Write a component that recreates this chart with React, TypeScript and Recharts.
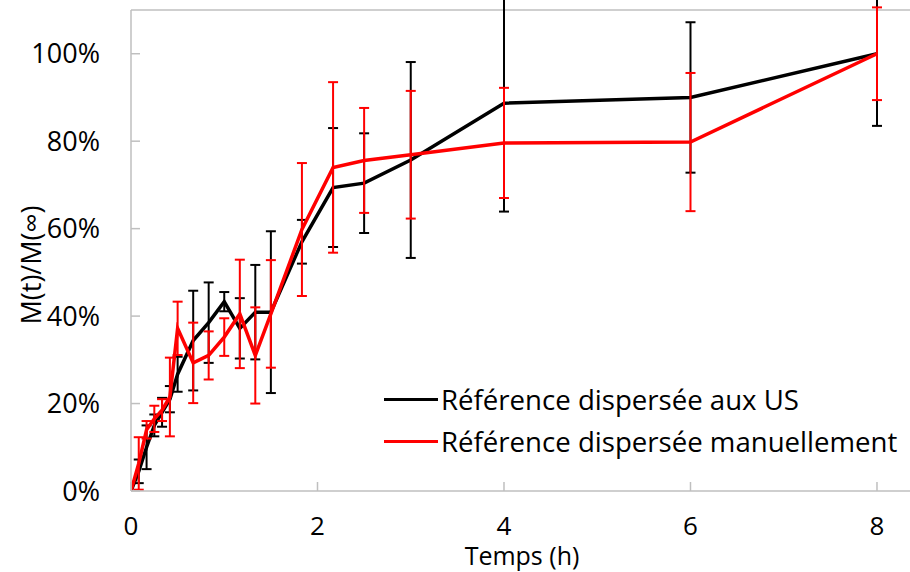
import { ErrorBar, Line, LineChart, ReferenceLine, XAxis, YAxis } from 'recharts'

// time in hours
const TIMES = [0, 0.083, 0.167, 0.25, 0.333, 0.417, 0.5, 0.667, 0.833, 1, 1.167, 1.333, 1.5, 1.833, 2.167, 2.5, 3, 4, 6, 8]

// Référence dispersée aux US (%)
const US = [0, 4.5, 10, 15, 18, 21, 26.7, 34.4, 38.5, 43.3, 37.2, 40.9, 40.9, 57, 69.4, 70.4, 75.7, 88.7, 90, 100]
const US_ERR = [0, 2.7, 5, 2.5, 3.3, 3, 4, 11.4, 9.2, 2.2, 6.9, 10.8, 18.5, 5, 13.6, 11.4, 22.4, 24.8, 17.2, 16.5]

// Référence dispersée manuellement (%)
const MAN = [0, 6.3, 14, 16.5, 18.5, 21.5, 37.2, 29.3, 31, 35.2, 40.5, 31, 40.5, 59.8, 74, 75.6, 76.9, 79.6, 79.8, 100]
const MAN_ERR = [0, 6, 2, 3, 2.5, 9, 6.1, 9.2, 5.5, 4.3, 12.4, 11, 12.3, 15.2, 19.5, 12, 14.6, 12.6, 15.8, 10.6]

const X_TICKS = [0, 2, 4, 6, 8]
const Y_TICKS = [0, 20, 40, 60, 80, 100]

const SERIES = [
  { key: 'us', err: 'usErr', name: 'Référence dispersée aux US', color: '#000000' },
  { key: 'man', err: 'manErr', name: 'Référence dispersée manuellement', color: '#ff0000' },
]

const data = TIMES.map((t, i) => ({ t, us: US[i], usErr: US_ERR[i], man: MAN[i], manErr: MAN_ERR[i] }))

const FONT = '"Open Sans", "Noto Sans", sans-serif'
const AXIS = '#bfbfbf'

export default function App() {
  return (
    <div style={{ position: 'fixed', left: 0, top: 0, width: 910, height: 572, background: '#fff', overflow: 'hidden' }}>
      <LineChart width={910} height={572} data={data} margin={{ top: 10, right: 0, bottom: 0, left: 0 }}>
        <XAxis
          dataKey="t"
          type="number"
          domain={[0, 8.354]}
          ticks={X_TICKS}
          allowDataOverflow
          height={81}
          stroke={AXIS}
          strokeWidth={1.5}
          tickSize={-9}
          tickMargin={35}
          tick={{ fill: '#000', fontSize: 26, fontFamily: FONT }}
          label={{
            content: () => (
              <text x={522} y={565} textAnchor="middle" fontSize={25} fontFamily={FONT} fill="#000">
                Temps (h)
              </text>
            ),
          }}
        />
        <YAxis
          type="number"
          domain={[0, 110]}
          ticks={Y_TICKS}
          allowDataOverflow
          width={131}
          stroke={AXIS}
          strokeWidth={1.5}
          tickSize={-9}
          tickMargin={40}
          tickFormatter={(v: number) => `${v}%`}
          tick={{ fill: '#000', fontSize: 27, fontFamily: FONT }}
          label={{
            content: () => (
              <text
                x={41}
                y={265}
                transform="rotate(-90 41 265)"
                textAnchor="middle"
                fontSize={27}
                fontFamily={FONT}
                fill="#000"
              >
                M(t)/M(∞)
              </text>
            ),
          }}
        />
        <ReferenceLine y={110} stroke={AXIS} strokeWidth={1.5} />
        {SERIES.map((s) => (
          <Line
            key={s.key}
            type="linear"
            dataKey={s.key}
            name={s.name}
            stroke={s.color}
            strokeWidth={3.5}
            dot={false}
            isAnimationActive={false}
          >
            <ErrorBar dataKey={s.err} direction="y" width={5} stroke={s.color} strokeWidth={2} />
          </Line>
        ))}
      </LineChart>
      <div style={{ position: 'absolute', left: 384, top: 378, fontFamily: FONT, fontSize: 27.6, color: '#000', whiteSpace: 'nowrap' }}>
        {SERIES.map((s) => (
          <div key={s.key} style={{ display: 'flex', alignItems: 'center', height: 42 }}>
            <span style={{ display: 'inline-block', width: 54, height: 3, background: s.color, marginRight: 3 }} />
            {s.name}
          </div>
        ))}
      </div>
    </div>
  )
}
